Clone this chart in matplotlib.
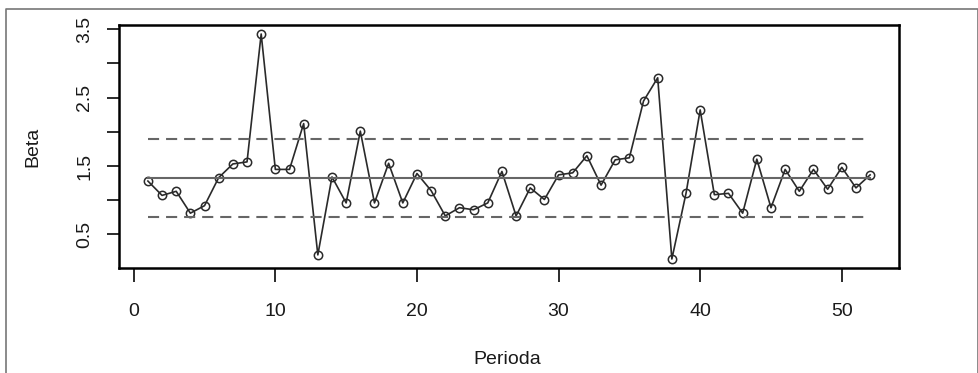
import matplotlib
matplotlib.use("Agg")
import matplotlib.pyplot as plt
from matplotlib.lines import Line2D

plt.rcParams["font.family"] = ["Liberation Sans", "DejaVu Sans"]
plt.rcParams["lines.scale_dashes"] = False

# beta per period
periods = list(range(1, 53))
beta = [1.28, 1.07, 1.13, 0.81, 0.92, 1.33, 1.53, 1.56, 3.43, 1.45,
        1.45, 2.12, 0.20, 1.34, 0.96, 2.01, 0.96, 1.54, 0.96, 1.39,
        1.14, 0.77, 0.89, 0.86, 0.96, 1.42, 0.77, 1.18, 1.01, 1.37,
        1.40, 1.65, 1.22, 1.59, 1.62, 2.45, 2.79, 0.14, 1.10, 2.32,
        1.08, 1.10, 0.81, 1.60, 0.89, 1.45, 1.13, 1.45, 1.16, 1.48,
        1.18, 1.37]
center = 1.33
upper = 1.89
lower = 0.75
xticks = [0, 10, 20, 30, 40, 50]
yticks = [0.5, 1.0, 1.5, 2.0, 2.5, 3.0, 3.5]
ytick_labels = ["0.5", "", "1.5", "", "2.5", "", "3.5"]

W, H = 979, 373
fig = plt.figure(figsize=(W / 100, H / 100), dpi=100)
ax = fig.add_axes([119 / W, (H - 268) / H, (899 - 119) / W, (268 - 25) / H])

# outer gray frame (bottom cut off in the original)
fig.add_artist(Line2D([6 / W, 6 / W, 978 / W, 978 / W],
                      [0, (H - 9) / H, (H - 9) / H, 0],
                      transform=fig.transFigure, color="#777777", lw=1.2))

ax.plot(periods, beta, color="#2a2a2a", lw=1.2, marker="o", ms=6,
        mfc="none", mec="#2a2a2a", mew=1.1)
x0, x1 = periods[0], periods[-1]
ax.plot([x0, x1], [center, center], color="#666666", lw=1.5)
ax.plot([x0, x1], [upper, upper], color="#666666", lw=1.5,
        linestyle=(0, (8, 5)))
ax.plot([x0, x1], [lower, lower], color="#666666", lw=1.5,
        linestyle=(0, (8, 5)))

# R-style 4% padding
xr = x1 - x0
ax.set_xlim(x0 - 0.04 * xr, x1 + 0.04 * xr)
ymin, ymax = min(beta), max(beta)
yr = ymax - ymin
ax.set_ylim(ymin - 0.04 * yr, ymax + 0.04 * yr)

ax.set_xticks(xticks)
ax.set_yticks(yticks)
ax.set_yticklabels(ytick_labels, rotation=90, va="center")
ax.tick_params(axis="x", length=10, width=1.3, pad=15, labelsize=14,
               colors="#1a1a1a")
ax.tick_params(axis="y", length=8.5, width=1.3, pad=10, labelsize=14,
               colors="#1a1a1a")
for s in ax.spines.values():
    s.set_linewidth(1.8)
    s.set_color("black")

fig.text(507 / W, (H - 360) / H, "Perioda", ha="center", va="center",
         fontsize=14, color="#1a1a1a")
fig.text(33 / W, (H - 147) / H, "Beta", ha="center", va="center",
         rotation=90, fontsize=14, color="#1a1a1a")

fig.savefig("out.png", dpi=100)
